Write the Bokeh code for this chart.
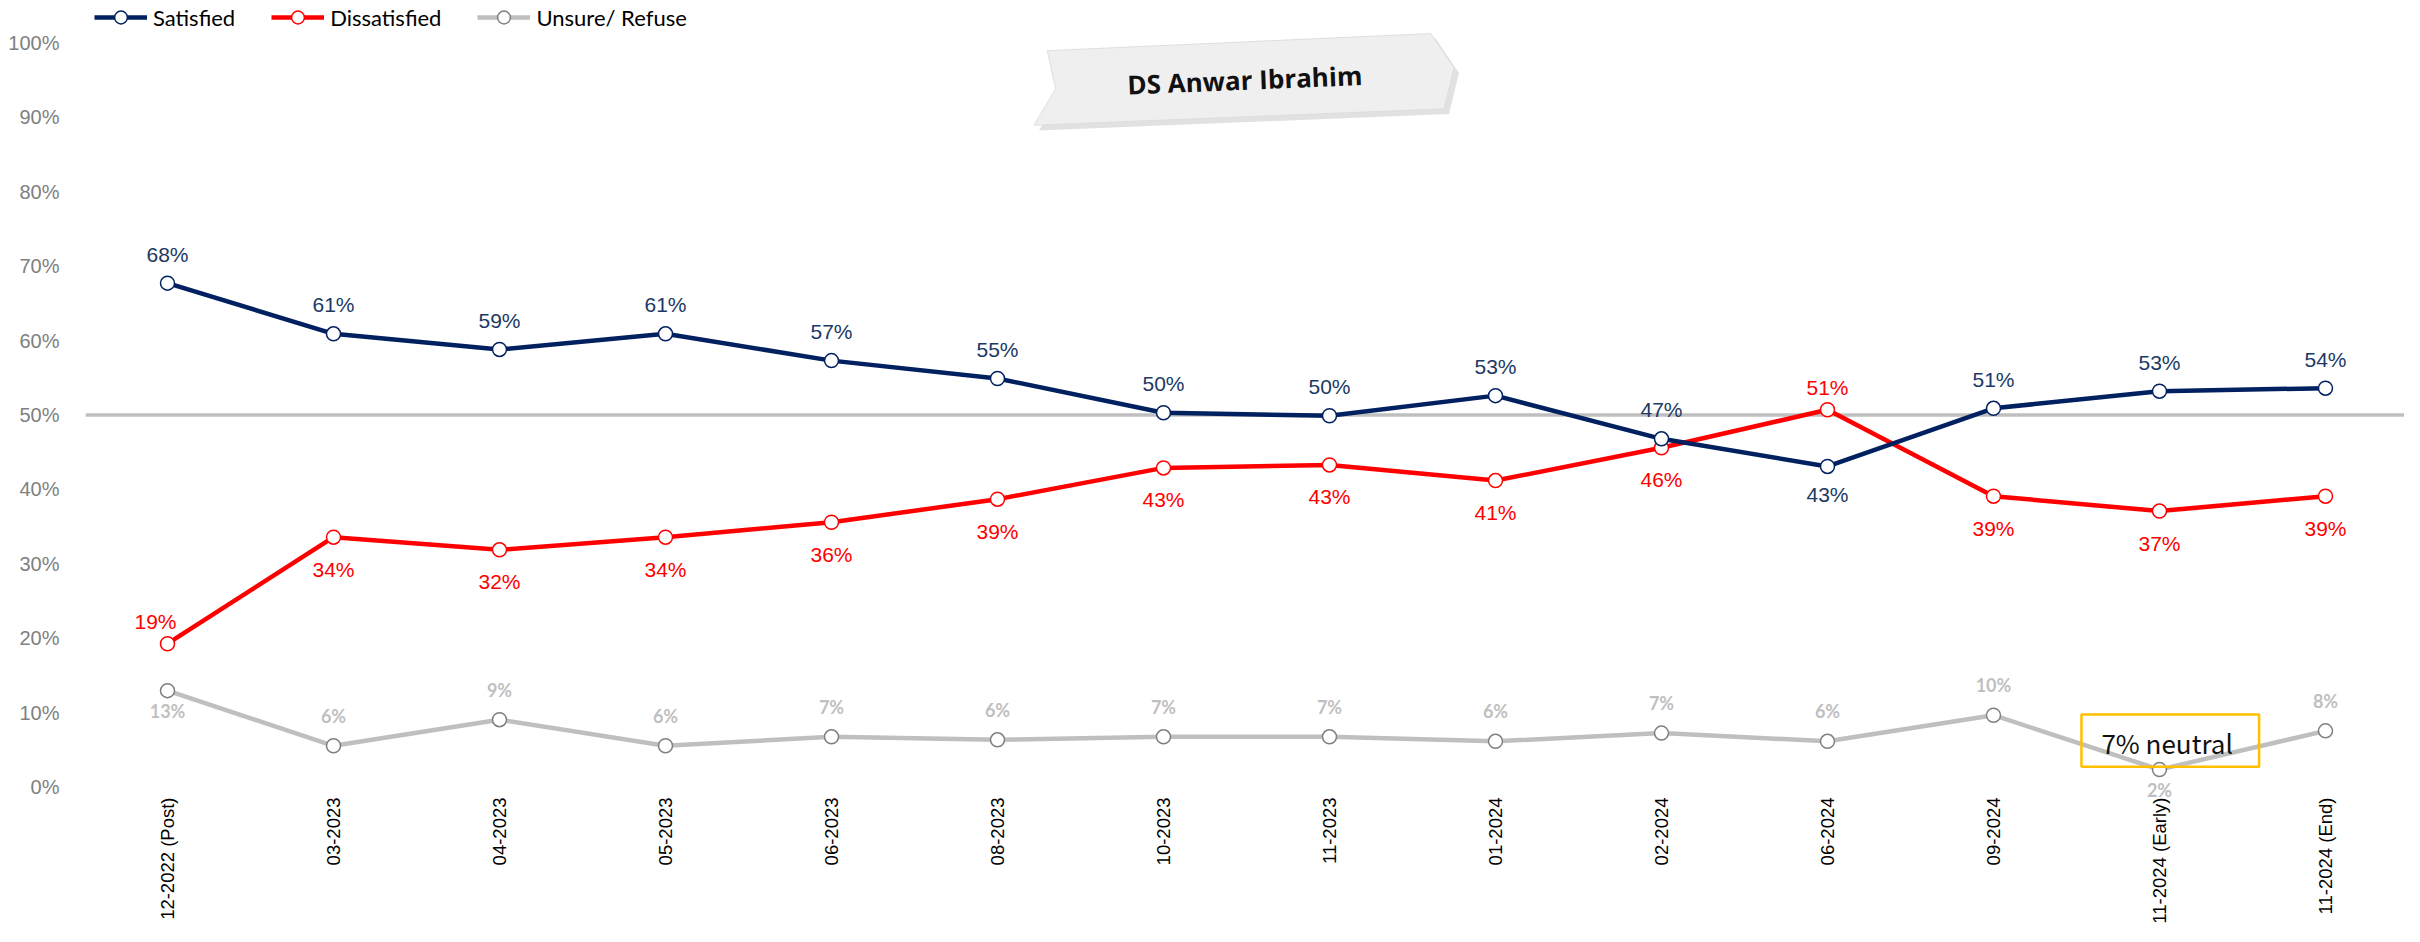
import math
from bokeh.plotting import figure
from bokeh.models import (ColumnDataSource, FixedTicker, Range1d, Span, Legend,
                          LegendItem, LabelSet)
from bokeh.core.properties import value
from bokeh.embed import file_html
from bokeh.resources import INLINE

# ---------------- data ----------------
categories = ["12-2022 (Post)", "03-2023", "04-2023", "05-2023", "06-2023", "08-2023",
              "10-2023", "11-2023", "01-2024", "02-2024", "06-2024", "09-2024",
              "11-2024 (Early)", "11-2024 (End)"]
satisfied = [67.7, 60.9, 58.8, 60.9, 57.3, 54.9, 50.3, 49.9, 52.6, 46.8, 43.1, 50.9, 53.2, 53.6]
dissatisfied = [19.3, 33.6, 31.9, 33.6, 35.6, 38.7, 42.9, 43.3, 41.2, 45.6, 50.7, 39.1, 37.1, 39.1]
unsure = [13.0, 5.6, 9.1, 5.6, 6.8, 6.4, 6.8, 6.8, 6.2, 7.3, 6.2, 9.7, 2.4, 7.6]
y_ticks = [0, 10, 20, 30, 40, 50, 60, 70, 80, 90, 100]
series_names = ["Satisfied", "Dissatisfied", "Unsure/ Refuse"]
title_text = "DS Anwar Ibrahim"
note_text = "7% neutral"
reference_level = 50

# label placement (style)
sat_pos = ["above"] * 14
sat_pos[10] = "below"
dis_pos = ["below"] * 14
dis_pos[0] = "above"
dis_pos[10] = "above"
uns_pos = ["above"] * 14
uns_pos[0] = "below"
uns_pos[12] = "below"

NAVY = "#002060"
RED = "#FF0000"
GRAY = "#BFBFBF"

xs = list(range(len(categories)))

# frame covers full height; y range padded so 0%..100% sit where the reference has them
p = figure(width=2404, height=926,
           x_range=Range1d(-0.494, 13.476), y_range=Range1d(-18.66, 105.64),
           output_backend="svg", toolbar_location=None,
           min_border_left=85, min_border_right=0, min_border_top=0, min_border_bottom=0)
p.outline_line_color = None
p.xgrid.visible = False
p.ygrid.visible = False
p.background_fill_color = "white"
p.border_fill_color = "white"

# y axis
p.yaxis.ticker = FixedTicker(ticks=y_ticks)
p.yaxis.major_label_overrides = {t: f"{t}%" for t in y_ticks}
p.yaxis.axis_line_color = None
p.yaxis.major_tick_line_color = None
p.yaxis.minor_tick_line_color = None
p.yaxis.major_label_standoff = 20
p.yaxis.major_label_text_font = "Liberation Sans"
p.yaxis.major_label_text_font_size = "20px"
p.yaxis.major_label_text_color = "#808080"

# x axis: category labels drawn through the x scale (vertical, below 0%)
p.xaxis.visible = False
cat_src = ColumnDataSource(dict(x=xs, y=[0] * len(xs), text=categories))
p.add_layout(LabelSet(x="x", y="y", text="text", source=cat_src, angle=math.pi / 2,
                      y_offset=-10, text_align="right", text_baseline="middle",
                      text_font=value("Liberation Sans"), text_font_size="18.5px",
                      text_color="black"))

# 50% reference line
p.add_layout(Span(location=reference_level, dimension="width", line_color=GRAY,
                  line_width=3.5, level="underlay"))

# title banner (decoration)
banner_x = [5.30, 7.61, 7.75, 7.69, 5.22, 5.35]
banner_y = [98.9, 101.2, 96.6, 91.1, 88.9, 93.8]
p.patch([x + 0.03 for x in banner_x], [y - 0.7 for y in banner_y],
        fill_color="#bdbdbd", fill_alpha=0.45, line_color=None)
p.patch(banner_x, banner_y, fill_color="#efefef", line_color="#dedede", line_width=1)
p.text(x=[6.49], y=[95.0], text=[title_text], angle=0.04,
       text_font=value("Open Sans"), text_font_style="bold", text_font_size="26px",
       text_color="#111111", text_align="center", text_baseline="middle")


def add_series(vals, color, mcolor, pos, off_above, off_below, lbl_color, font,
               font_style, font_size, x_shift=None):
    src = ColumnDataSource(dict(
        x=xs, y=vals,
        label=[f"{v:.0f}%" for v in vals],
        yo=[off_above if s == "above" else -off_below for s in pos],
        xo=x_shift if x_shift else [0] * len(xs),
    ))
    ln = p.line("x", "y", source=src, line_color=color, line_width=4.5)
    sc = p.scatter("x", "y", source=src, size=14, marker="circle",
                   fill_color="white", line_color=mcolor, line_width=1.5)
    p.add_layout(LabelSet(x="x", y="y", text="label", source=src,
                          x_offset="xo", y_offset="yo",
                          text_font=value(font), text_font_style=font_style,
                          text_font_size=font_size, text_color=lbl_color,
                          text_align="center", text_baseline="middle"))
    return ln, sc


dis_shift = [0] * 14
dis_shift[0] = -12

u_l, u_c = add_series(unsure, GRAY, "#7f7f7f", uns_pos, 30, 20, "#BFBFBF",
                      "Lato", "bold", "18px")
d_l, d_c = add_series(dissatisfied, RED, RED, dis_pos, 22, 32, "#FF0000",
                      "Liberation Sans", "normal", "21px", dis_shift)
s_l, s_c = add_series(satisfied, NAVY, NAVY, sat_pos, 29, 28, "#203864",
                      "Liberation Sans", "normal", "21px")

# annotation box
p.quad(left=[11.53], right=[12.60], bottom=[2.8], top=[9.8],
       fill_color=None, line_color="#FFC000", line_width=2.5)
p.text(x=[11.65], y=[6.0], text=[note_text], text_font=value("Noto Sans CJK SC"),
       text_font_size="26px", text_color="#111111", text_align="left", text_baseline="middle")

legend = Legend(items=[
    LegendItem(label=series_names[0], renderers=[s_l, s_c]),
    LegendItem(label=series_names[1], renderers=[d_l, d_c]),
    LegendItem(label=series_names[2], renderers=[u_l, u_c]),
], orientation="horizontal", location=(9, 893), padding=0, margin=0, spacing=36,
    glyph_width=53, glyph_height=32, label_height=32, label_standoff=6,
    label_text_font="Lato", label_text_font_size="22px", label_text_color="black",
    border_line_color=None, background_fill_alpha=0)
p.add_layout(legend, "center")

open("out.html", "w").write(file_html(p, INLINE))
